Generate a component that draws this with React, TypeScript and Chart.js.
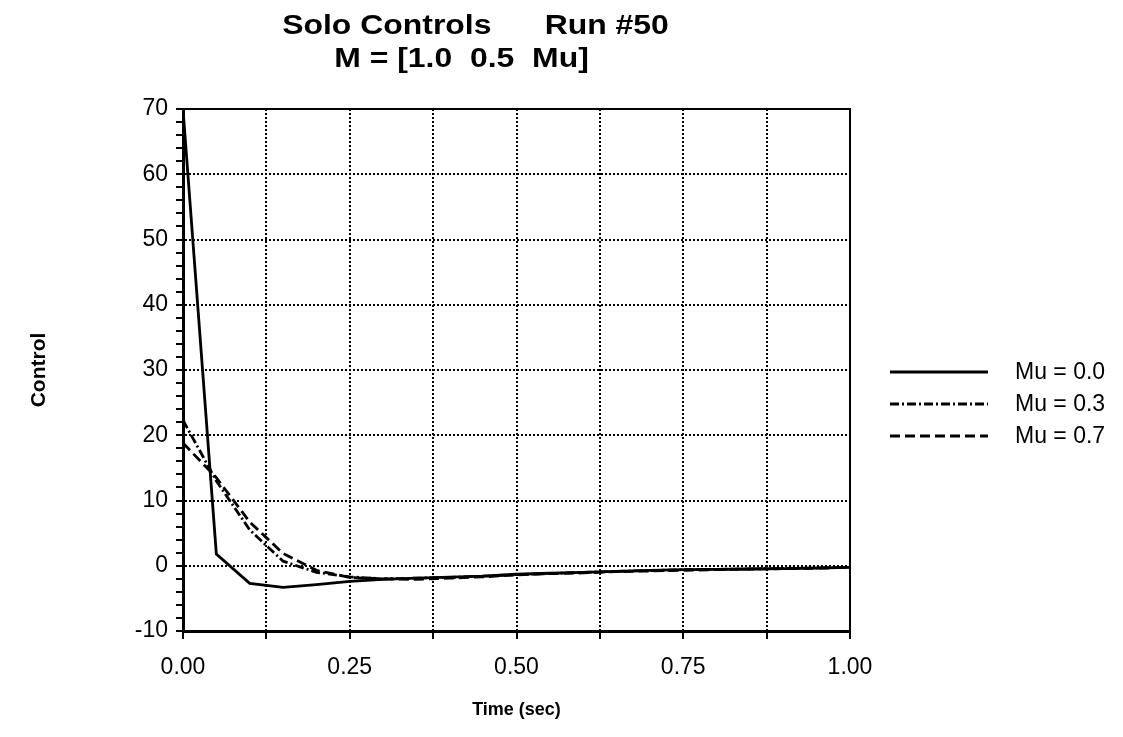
import React, { useEffect, useRef } from "react";
import { Chart, registerables } from "chart.js";

Chart.register(...registerables);

// ---- data ----
const timeSec = [0, 0.05, 0.1, 0.15, 0.2, 0.25, 0.3, 0.35, 0.4, 0.45, 0.5, 0.55, 0.6, 0.65, 0.7, 0.75, 0.8, 0.85, 0.9, 0.95, 1.0];
const controlMu00 = [70, 1.8, -2.7, -3.3, -2.9, -2.4, -2.1, -1.9, -1.75, -1.6, -1.3, -1.15, -1.0, -0.85, -0.7, -0.6, -0.55, -0.5, -0.45, -0.35, -0.25];
const controlMu03 = [22.3, 13.0, 5.5, 0.7, -1.0, -1.7, -2.0, -1.9, -1.8, -1.6, -1.35, -1.2, -1.0, -0.85, -0.75, -0.6, -0.55, -0.5, -0.4, -0.35, -0.25];
const controlMu07 = [18.8, 13.5, 6.7, 1.9, -0.7, -1.8, -2.0, -2.1, -1.9, -1.7, -1.4, -1.2, -1.1, -0.9, -0.8, -0.7, -0.6, -0.5, -0.45, -0.35, -0.25];
const seriesLabels = ["Mu = 0.0", "Mu = 0.3", "Mu = 0.7"];
const xTickLabels = ["0.00", "0.25", "0.50", "0.75", "1.00"];
const yTickLabels = ["-10", "0", "10", "20", "30", "40", "50", "60", "70"];
const titleLines = ["Solo Controls      Run #50", "M = [1.0  0.5  Mu]"];
const xAxisTitle = "Time (sec)";
const yAxisTitle = "Control";

const FONT = "'Liberation Sans', Arial, Helvetica, sans-serif";

const toPoints = (ys: number[]) => ys.map((y, i) => ({ x: timeSec[i], y }));

const framePlugin = {
  id: "frame",
  afterDatasetsDraw(chart: any) {
    const { ctx, chartArea } = chart;
    ctx.save();
    ctx.strokeStyle = "#000";
    ctx.lineWidth = 2;
    ctx.setLineDash([]);
    ctx.strokeRect(chartArea.left, chartArea.top, chartArea.right - chartArea.left, chartArea.bottom - chartArea.top);
    ctx.restore();
  },
};

const titlePlugin = {
  id: "stretchedTitle",
  afterDraw(chart: any) {
    const { ctx, chartArea } = chart;
    const pos = [
      [292.5, -75],
      [278.5, -42],
    ];
    ctx.save();
    ctx.fillStyle = "#000";
    ctx.font = `bold 28px ${FONT}`;
    ctx.textAlign = "center";
    ctx.textBaseline = "alphabetic";
    titleLines.forEach((t, i) => {
      ctx.save();
      ctx.translate(chartArea.left + pos[i][0], chartArea.top + pos[i][1]);
      ctx.scale(1.14, 1);
      ctx.fillText(t, 0, 0);
      ctx.restore();
    });
    ctx.restore();
  },
};

const legendPlugin = {
  id: "sideLegend",
  afterDraw(chart: any) {
    const { ctx, chartArea } = chart;
    ctx.save();
    chart.data.datasets.forEach((ds: any, i: number) => {
      const y = chartArea.top + 263 + i * 32;
      const x0 = chartArea.right + 40;
      ctx.beginPath();
      ctx.strokeStyle = ds.borderColor;
      ctx.lineWidth = ds.borderWidth;
      ctx.setLineDash(ds.borderDash || []);
      ctx.moveTo(x0, y);
      ctx.lineTo(x0 + 98, y);
      ctx.stroke();
      ctx.setLineDash([]);
      ctx.fillStyle = "#000";
      ctx.font = `23px ${FONT}`;
      ctx.textAlign = "left";
      ctx.textBaseline = "middle";
      ctx.fillText(ds.label, chartArea.right + 165, y + 1);
    });
    ctx.restore();
  },
};

export default function App() {
  const canvasRef = useRef<HTMLCanvasElement | null>(null);

  useEffect(() => {
    if (!canvasRef.current) return;
    const isMultiple = (v: number, s: number) => Math.abs(v / s - Math.round(v / s)) < 1e-9;
    const chart = new Chart(canvasRef.current, {
      type: "line",
      data: {
        datasets: [
          {
            label: seriesLabels[0],
            data: toPoints(controlMu00),
            borderColor: "#000",
            borderWidth: 2.8,
            borderDash: [],
            pointRadius: 0,
            tension: 0,
          },
          {
            label: seriesLabels[1],
            data: toPoints(controlMu03),
            borderColor: "#000",
            borderWidth: 2.8,
            borderDash: [9, 3, 2, 3],
            pointRadius: 0,
            tension: 0,
          },
          {
            label: seriesLabels[2],
            data: toPoints(controlMu07),
            borderColor: "#000",
            borderWidth: 2.8,
            borderDash: [10, 5],
            pointRadius: 0,
            tension: 0,
          },
        ],
      },
      options: {
        animation: false,
        responsive: false,
        layout: { padding: { top: 101, right: 265, bottom: 0, left: 0 } },
        plugins: {
          legend: { display: false },
          title: { display: false },
          tooltip: { enabled: false },
        },
        scales: {
          x: {
            type: "linear",
            min: 0,
            max: 1,
            afterFit: (s: any) => {
              s.height = 98;
            },
            ticks: {
              stepSize: 0.125,
              autoSkip: false,
              maxRotation: 0,
              padding: 15,
              color: "#000",
              font: { family: FONT, size: 23 },
              callback: (v: any) => (isMultiple(Number(v), 0.25) ? xTickLabels[Math.round(Number(v) * 4)] : ""),
            },
            grid: {
              color: "#000",
              lineWidth: 2,
              tickColor: "#000",
              tickLength: 8,
              tickWidth: 2,
              tickBorderDash: [],
            },
            border: { display: true, color: "#000", width: 3, dash: [2, 2] },
            title: {
              display: true,
              text: xAxisTitle,
              color: "#000",
              font: { family: FONT, size: 18, weight: "bold" },
              padding: { top: 0, bottom: 8 },
            },
          },
          y: {
            type: "linear",
            min: -10,
            max: 70,
            afterFit: (s: any) => {
              s.width = 175;
            },
            ticks: {
              stepSize: 2,
              autoSkip: false,
              padding: 8,
              color: "#000",
              font: { family: FONT, size: 23 },
              callback: (v: any) => (isMultiple(Number(v), 10) ? yTickLabels[Math.round((Number(v) + 10) / 10)] : ""),
            },
            grid: {
              color: (c: any) => (c.tick && isMultiple(c.tick.value, 10) ? "#000" : "rgba(0,0,0,0)"),
              lineWidth: 2,
              tickColor: "#000",
              tickLength: 7,
              tickWidth: 2,
              tickBorderDash: [],
            },
            border: { display: true, color: "#000", width: 3, dash: [2, 2] },
            title: {
              display: true,
              text: yAxisTitle,
              color: "#000",
              font: { family: FONT, size: 21, weight: "bold" },
              padding: { top: 19, bottom: 0 },
            },
          },
        },
      },
      plugins: [framePlugin, titlePlugin, legendPlugin],
    } as any);
    return () => chart.destroy();
  }, []);

  return (
    <div style={{ width: 1107, height: 721 }}>
      <canvas ref={canvasRef} width={1107} height={721} style={{ display: "block" }} />
    </div>
  );
}
